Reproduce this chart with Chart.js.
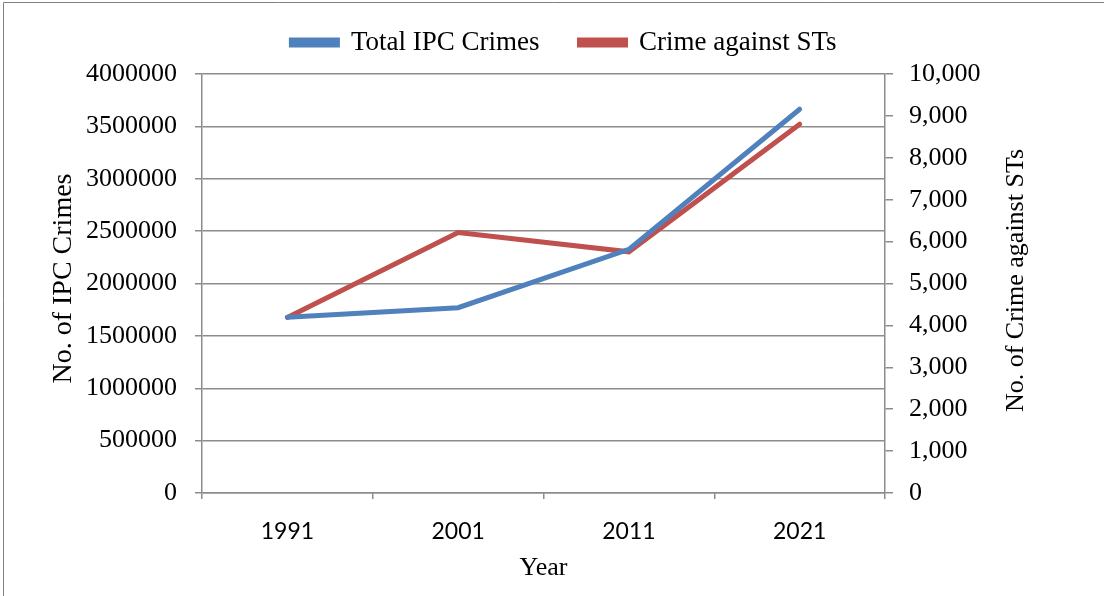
<!DOCTYPE html>
<html>
<head>
<meta charset="utf-8">
<script src="https://cdn.jsdelivr.net/npm/chart.js@4.4.1/dist/chart.umd.min.js"></script>
<style>
  html, body { margin: 0; padding: 0; background: #fff; }
  #wrap { position: relative; width: 1104px; height: 596px; }
</style>
</head>
<body>
<div id="wrap"><canvas id="c" width="1104" height="596"></canvas></div>
<script>
const years = ['1991', '2001', '2011', '2021'];
const totalIPC = [1678375, 1769308, 2325575, 3663360];
const crimeST = [4190, 6217, 5756, 8802];
const leftTicks = [0, 500000, 1000000, 1500000, 2000000, 2500000, 3000000, 3500000, 4000000];
const rightTicks = [0, 1000, 2000, 3000, 4000, 5000, 6000, 7000, 8000, 9000, 10000];

const SERIF = '"Liberation Serif", "Times New Roman", serif';
const GRID = '#8c8c8c';

const spacerPlugin = {
  id: 'spacer',
  afterInit(chart) {
    const box = {
      position: 'top',
      weight: 500,
      fullSize: true,
      options: { position: 'top', weight: 500, fullSize: true },
      width: 0,
      height: 0,
      top: 0, left: 0, right: 0, bottom: 0,
      isHorizontal() { return true; },
      update(maxWidth) { this.width = maxWidth; this.height = 8; },
      draw() {}
    };
    Chart.layouts.addBox(chart, box);
  }
};

const titlesPlugin = {
  id: 'titles',
  beforeDraw(chart) {
    const ctx = chart.ctx;
    ctx.save();
    ctx.strokeStyle = '#808080';
    ctx.lineWidth = 1;
    ctx.beginPath();
    ctx.moveTo(3.5, 596);
    ctx.lineTo(3.5, 2.5);
    ctx.lineTo(1104, 2.5);
    ctx.stroke();
    ctx.restore();
  },
  afterDraw(chart) {
    const ctx = chart.ctx;
    const a = chart.chartArea;
    const cy = (a.top + a.bottom) / 2;
    ctx.save();
    ctx.fillStyle = '#000';
    ctx.textAlign = 'center';
    ctx.textBaseline = 'middle';
    ctx.save();
    ctx.font = '28px ' + SERIF;
    ctx.translate(64, cy - 5);
    ctx.rotate(-Math.PI / 2);
    ctx.fillText('No. of IPC Crimes', 0, 0);
    ctx.restore();
    ctx.save();
    ctx.font = '26px ' + SERIF;
    ctx.translate(1016, cy - 3);
    ctx.rotate(-Math.PI / 2);
    ctx.fillText('No. of Crime against STs', 0, 0);
    ctx.restore();
    ctx.font = '26px ' + SERIF;
    ctx.fillText('Year', (a.left + a.right) / 2, 568);
    ctx.restore();
  }
};

new Chart(document.getElementById('c'), {
  type: 'line',
  data: {
    labels: years,
    datasets: [
      {
        label: 'Total IPC Crimes',
        data: totalIPC,
        borderColor: '#4F81BD',
        backgroundColor: '#4F81BD',
        borderWidth: 5,
        borderCapStyle: 'round',
        pointRadius: 0,
        tension: 0,
        yAxisID: 'y'
      },
      {
        label: 'Crime against STs',
        data: crimeST,
        borderColor: '#C0504D',
        backgroundColor: '#C0504D',
        borderWidth: 5,
        borderCapStyle: 'round',
        pointRadius: 0,
        tension: 0,
        yAxisID: 'y1'
      }
    ]
  },
  options: {
    responsive: false,
    animation: false,
    devicePixelRatio: 1,
    layout: { padding: { top: -11, left: 24, right: 0, bottom: 0 } },
    plugins: {
      legend: {
        display: true,
        position: 'top',
        labels: {
          font: { family: SERIF, size: 27 },
          color: '#000',
          boxWidth: 46,
          boxHeight: 5,
          padding: 40
        }
      },
      tooltip: { enabled: false }
    },
    scales: {
      x: {
        type: 'category',
        offset: true,
        afterFit(s) { s.height = 103; },
        grid: {
          offset: true,
          drawOnChartArea: false,
          drawTicks: true,
          tickLength: 6,
          color: GRID,
          lineWidth: 1.5
        },
        border: { display: true, color: GRID, width: 1.5 },
        ticks: {
          font: { family: 'Lato, "Open Sans", sans-serif', size: 23 },
          color: '#000',
          padding: 19
        }
      },
      y: {
        position: 'left',
        min: 0,
        max: 4000000,
        afterFit(s) { s.width = 178; },
        afterBuildTicks(s) { s.ticks = leftTicks.map(v => ({ value: v })); },
        grid: {
          drawOnChartArea: true,
          drawTicks: true,
          tickLength: 7,
          color: GRID,
          lineWidth: 1.5
        },
        border: { display: true, color: GRID, width: 1.5 },
        ticks: {
          font: { family: SERIF, size: 26 },
          color: '#000',
          padding: 18,
          callback: v => String(v)
        }
      },
      y1: {
        position: 'right',
        min: 0,
        max: 10000,
        afterFit(s) { s.width = 219; },
        afterBuildTicks(s) { s.ticks = rightTicks.map(v => ({ value: v })); },
        grid: {
          drawOnChartArea: false,
          drawTicks: true,
          tickLength: 8,
          color: GRID,
          lineWidth: 1.5
        },
        border: { display: true, color: GRID, width: 1.5 },
        ticks: {
          font: { family: SERIF, size: 26 },
          color: '#000',
          padding: 16,
          callback: v => v.toLocaleString('en-US')
        }
      }
    }
  },
  plugins: [spacerPlugin, titlesPlugin]
});
</script>
</body>
</html>
